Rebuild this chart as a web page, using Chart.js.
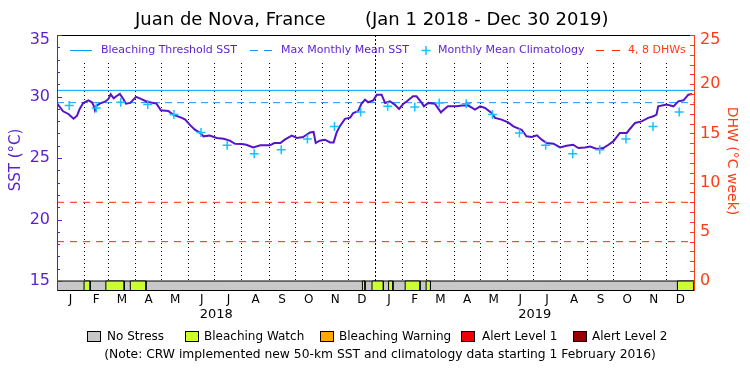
<!DOCTYPE html>
<html><head><meta charset="utf-8">
<script src="https://cdn.jsdelivr.net/npm/chart.js@4/dist/chart.umd.min.js"></script>
<style>html,body{margin:0;padding:0;background:#fff}#wrap{width:750px;height:375px}</style>
</head><body><div id="wrap"><canvas id="c" width="750" height="375"></canvas></div>
<script>
// ---- data (x = days since Jan 1 2018) ----
const sstDays = [0,7,13,19,23,26,30,36,40,42,43.5,45.5,49,55,59,61.5,65,68,72,76,79,84,90.5,95,103,114,119,127.5,133,143,147,152,158,164,168,175,183,191,198,204,212,217,225,233,244,249,256,261,269,275,282,290,294,296.5,301,307,313,317,320.5,324,330,336,339.5,345,349,353,356.5,362.5,366.5,372,376,381.5,387,392,397,401,408,412,418,420.5,425.5,433,440,442.5,448,458,464,471,479,485,490.5,498,502,509.5,517,523,532.5,538,544,550,555.5,561,569,576.5,584,591.5,597.5,605,611,618.5,626,632,637.5,645,653,656.5,662.5,670,677.5,683.5,687,689,698.5,706.5,712,718,723.5,728];
const sstValues = [29.45,28.80,28.58,28.20,28.44,28.99,29.48,29.69,29.53,29.26,28.88,29.26,29.42,29.58,29.80,30.18,29.85,30.02,30.21,29.80,29.42,29.48,29.97,29.85,29.58,29.42,28.88,28.83,28.53,28.26,28.12,27.71,27.30,27.04,26.76,26.82,26.63,26.57,26.41,26.16,26.14,26.08,25.86,26.03,26.03,26.22,26.22,26.49,26.82,26.63,26.71,27.08,27.12,26.22,26.41,26.49,26.27,26.27,27.08,27.57,28.18,28.28,28.66,28.80,29.42,29.75,29.53,29.69,30.15,30.15,29.48,29.61,29.34,28.99,29.42,29.61,30.02,30.02,29.48,29.20,29.48,29.42,28.71,28.88,29.20,29.20,29.26,29.28,28.93,29.20,29.07,28.66,28.26,28.12,27.90,27.57,27.30,26.76,26.71,26.84,26.49,26.22,26.16,25.86,26.00,26.08,25.81,25.86,25.94,25.73,25.81,26.08,26.35,27.04,27.04,27.36,27.85,27.98,28.26,28.39,28.53,29.20,29.34,29.20,29.61,29.69,30.15,30.21];
const climDays = [14,45,73,104,134,165,195,226,257,287,318,348,379,410,438,469,499,530,560,591,622,652,683,713];
const climValues = [29.26,29.07,29.53,29.34,28.53,27.08,26.03,25.35,25.68,26.55,27.57,28.75,29.20,29.15,29.48,29.42,28.53,27.04,26.03,25.35,25.68,26.55,27.57,28.75];
const monthStarts = [0,31,59,90,120,151,181,212,243,273,304,334,365,396,424,455,485,516,546,577,608,638,669,699,730];
const monthLetters = ['J','F','M','A','M','J','J','A','S','O','N','D','J','F','M','A','M','J','J','A','S','O','N','D'];
const watchPeriods = [[31,38],[56,77],[84,102],[350,353],[361,374],[380,385],[399,416],[423,428],[711,730]];
const bleachingThreshold = 30.5;
const maxMonthlyMean = 29.5;
const dhwLevels = [4, 8];
const yearStart = 365;
const yearLabels = ['2018','2019'];
const yearMidDays = [182.5, 547.5];
const sstTicks = [15,20,25,30,35];
const dhwTicks = [0,5,10,15,20,25];
const stressNames = ['No Stress','Bleaching Watch','Bleaching Warning','Alert Level 1','Alert Level 2'];
const stressColors = ['#c8c8c8','#ccff33','#ffaa00','#ee0000','#960000'];

// ---- styles ----
const FONT = "'DejaVu Sans', sans-serif";
const PURPLE = '#5a1ed2';
const ORANGE = '#ff3c14';
const SST_MIN = 14.27, SST_MAX = 35;
const DHW_MIN = (SST_MIN - 15) * 1.25, DHW_MAX = 25;

const midDays = [], midLabel = {};
for (let i = 0; i < 24; i++) { const m = (monthStarts[i] + monthStarts[i+1]) / 2; midDays.push(m); midLabel[m] = monthLetters[i]; }
const gridDays = new Set(monthStarts.slice(1, 24).filter(d => d !== yearStart));
const xTicks = [...monthStarts.slice(1, 24), ...midDays].sort((a,b)=>a-b);

const datasets = [];
datasets.push({ label:'clim', data: climDays.map((d,i)=>({x:d,y:climValues[i]})), showLine:false, pointStyle:'cross', pointRadius:4.5, pointBorderWidth:1.5, pointBorderColor:'#18c0ff', borderColor:'#18c0ff', yAxisID:'y' });
datasets.push({ label:'sst', data: sstDays.map((d,i)=>({x:d,y:sstValues[i]})), borderColor:'#5514c8', borderWidth:2, pointRadius:0, tension:0, yAxisID:'y' });
datasets.push({ label:'thr', data:[{x:0,y:bleachingThreshold},{x:730,y:bleachingThreshold}], borderColor:'#00a0ff', borderWidth:1, pointRadius:0, yAxisID:'y' });
datasets.push({ label:'mmm', data:[{x:0,y:maxMonthlyMean},{x:730,y:maxMonthlyMean}], borderColor:'#1e90ff', borderWidth:1, borderDash:[7,5], pointRadius:0, yAxisID:'y' });
dhwLevels.forEach(v => datasets.push({ label:'dhw'+v, data:[{x:0,y:v},{x:730,y:v}], borderColor:'#ff2a00', borderWidth:1, borderDash:[7,6], pointRadius:0, yAxisID:'y2' }));
datasets.push({ label:'year', data:[{x:yearStart,y:15},{x:yearStart,y:SST_MAX}], borderColor:'#000', borderWidth:1, borderDash:[2,2], pointRadius:0, yAxisID:'y' });
watchPeriods.forEach(p => datasets.push({ label:'watch', data:[{x:p[0],y:SST_MIN},{x:p[0],y:15},{x:p[1],y:15},{x:p[1],y:SST_MIN}], borderColor:'#000', borderWidth:1, backgroundColor:stressColors[1], fill:'start', pointRadius:0, yAxisID:'y' }));
datasets.push({ label:'nostress', data:[{x:0,y:SST_MIN},{x:0,y:15},{x:730,y:15},{x:730,y:SST_MIN}], borderColor:'#000', borderWidth:1, backgroundColor:stressColors[0], fill:'start', pointRadius:0, yAxisID:'y' });

const deco = {
  id:'deco',
  beforeDatasetsDraw(chart){
    const {ctx, chartArea:a} = chart;
    ctx.save(); ctx.fillStyle = '#fff';
    ctx.fillRect(a.left+1, a.top+1, a.right-a.left-2, 60 - a.top);
    ctx.restore();
  },
  afterDraw(chart){
    const {ctx, chartArea:a, scales} = chart;
    ctx.save();
    // top border
    ctx.strokeStyle = '#000'; ctx.lineWidth = 1;
    ctx.beginPath(); ctx.moveTo(a.left, a.top+0.5); ctx.lineTo(a.right, a.top+0.5); ctx.stroke();
    // minor ticks
    ctx.strokeStyle = PURPLE;
    for (let v = 15; v <= 35; v++) { const y = Math.round(scales.y.getPixelForValue(v))+0.5; const L = v%5===0?5:3; ctx.beginPath(); ctx.moveTo(a.left, y); ctx.lineTo(a.left+L, y); ctx.stroke(); }
    ctx.strokeStyle = ORANGE;
    for (let v = 0; v <= 25; v++) { const y = Math.round(scales.y2.getPixelForValue(v))+0.5; ctx.beginPath(); ctx.moveTo(a.right-4, y); ctx.lineTo(a.right, y); ctx.stroke(); }
    // top tick labels (sit a little below the top edge)
    ctx.textBaseline = 'middle'; ctx.font = '16px ' + FONT;
    ctx.textAlign = 'right'; ctx.fillStyle = PURPLE; ctx.fillText(String(SST_MAX), a.left - 7, scales.y.getPixelForValue(SST_MAX) + 5);
    ctx.textAlign = 'left'; ctx.fillStyle = ORANGE; ctx.fillText(String(DHW_MAX), a.right + 6, scales.y2.getPixelForValue(DHW_MAX) + 5);
    // title
    ctx.fillStyle = '#000'; ctx.textBaseline = 'middle'; ctx.textAlign = 'left';
    ctx.font = '18px ' + FONT;
    ctx.fillText('Juan de Nova, France', 135, 20);
    ctx.fillText('(Jan 1 2018 - Dec 30 2019)', 365, 20);
    // axis titles
    ctx.save(); ctx.translate(16, 160); ctx.rotate(-Math.PI/2); ctx.textAlign='center'; ctx.fillStyle=PURPLE; ctx.font='15px '+FONT; ctx.fillText('SST (°C)',0,0); ctx.restore();
    ctx.save(); ctx.translate(732, 161); ctx.rotate(Math.PI/2); ctx.textAlign='center'; ctx.fillStyle=ORANGE; ctx.font='14px '+FONT; ctx.fillText('DHW (°C week)',0,0); ctx.restore();
    // top legend
    const ly = 50.5;
    ctx.font = '11px ' + FONT; ctx.textBaseline='middle';
    ctx.strokeStyle = '#00a0ff'; ctx.beginPath(); ctx.moveTo(70, ly); ctx.lineTo(92, ly); ctx.stroke();
    ctx.fillStyle = PURPLE; ctx.fillText('Bleaching Threshold SST', 101, ly);
    ctx.strokeStyle = '#1e90ff'; ctx.beginPath(); ctx.moveTo(250, ly); ctx.lineTo(258, ly); ctx.moveTo(264, ly); ctx.lineTo(272, ly); ctx.stroke();
    ctx.fillText('Max Monthly Mean SST', 281, ly);
    ctx.strokeStyle = '#18c0ff'; ctx.lineWidth = 1.5; ctx.beginPath(); ctx.moveTo(421.5, ly); ctx.lineTo(430.5, ly); ctx.moveTo(426, ly-4.5); ctx.lineTo(426, ly+4.5); ctx.stroke(); ctx.lineWidth = 1;
    ctx.fillText('Monthly Mean Climatology', 438, ly);
    ctx.strokeStyle = '#ff2a00'; ctx.beginPath(); ctx.moveTo(596, ly); ctx.lineTo(604, ly); ctx.moveTo(612, ly); ctx.lineTo(620, ly); ctx.stroke();
    ctx.fillStyle = ORANGE; ctx.fillText('4, 8 DHWs', 628, ly);
    // year labels
    ctx.fillStyle = '#000'; ctx.textAlign = 'center'; ctx.font = '13px ' + FONT;
    yearLabels.forEach((t,i) => ctx.fillText(t, scales.x.getPixelForValue(yearMidDays[i]), 315));
    // bottom legend
    const bx = [87, 185, 320, 461, 573], tx = [107, 204, 339, 482, 592];
    ctx.textAlign = 'left'; ctx.font = '12px ' + FONT;
    stressNames.forEach((n,i) => {
      ctx.fillStyle = stressColors[i]; ctx.fillRect(bx[i], 331, 13, 10);
      ctx.strokeStyle = '#000'; ctx.strokeRect(bx[i]+0.5, 331.5, 13, 10);
      ctx.fillStyle = '#000'; ctx.fillText(n, tx[i], 337);
    });
    ctx.textAlign = 'center'; ctx.font = '12.3px ' + FONT;
    ctx.fillText('(Note: CRW implemented new 50-km SST and climatology data starting 1 February 2016)', 380, 355);
    ctx.restore();
  }
};

new Chart(document.getElementById('c'), {
  type: 'line',
  data: { datasets },
  options: {
    responsive:false, animation:false, devicePixelRatio:1,
    layout:{ padding:{ top:35, left:0, right:0, bottom:0 } },
    plugins:{ legend:{display:false}, title:{display:false}, tooltip:{enabled:false} },
    scales:{
      x:{ type:'linear', min:0, max:730, position:'bottom',
        afterBuildTicks: s => { s.ticks = xTicks.map(v=>({value:v})); },
        afterFit: s => { s.height = 85; },
        ticks:{ autoSkip:false, maxRotation:0, padding:3, color:'#000', font:{family:FONT, size:12}, callback: v => midLabel[v] || '' },
        grid:{ drawTicks:false, color: c => (c.tick && gridDays.has(c.tick.value)) ? '#000' : 'rgba(0,0,0,0)', lineWidth:1 },
        border:{ display:true, color:'#000', dash:[1,3], z:1 } },
      y:{ type:'linear', position:'left', min:SST_MIN, max:SST_MAX,
        afterBuildTicks: s => { s.ticks = sstTicks.map(v=>({value:v})); },
        afterFit: s => { s.width = 57; },
        ticks:{ padding:7, color:PURPLE, font:{family:FONT, size:16}, callback: v => v === SST_MAX ? '' : String(v) },
        grid:{ drawOnChartArea:false, drawTicks:false },
        border:{ display:true, color:PURPLE, z:1 } },
      y2:{ type:'linear', position:'right', min:DHW_MIN, max:DHW_MAX,
        afterBuildTicks: s => { s.ticks = dhwTicks.map(v=>({value:v})); },
        afterFit: s => { s.width = 56; },
        ticks:{ padding:6, color:ORANGE, font:{family:FONT, size:16}, callback: v => v === DHW_MAX ? '' : String(v) },
        grid:{ drawOnChartArea:false, drawTicks:false },
        border:{ display:true, color:ORANGE, z:1 } }
    }
  },
  plugins:[deco]
});
</script></body></html>
